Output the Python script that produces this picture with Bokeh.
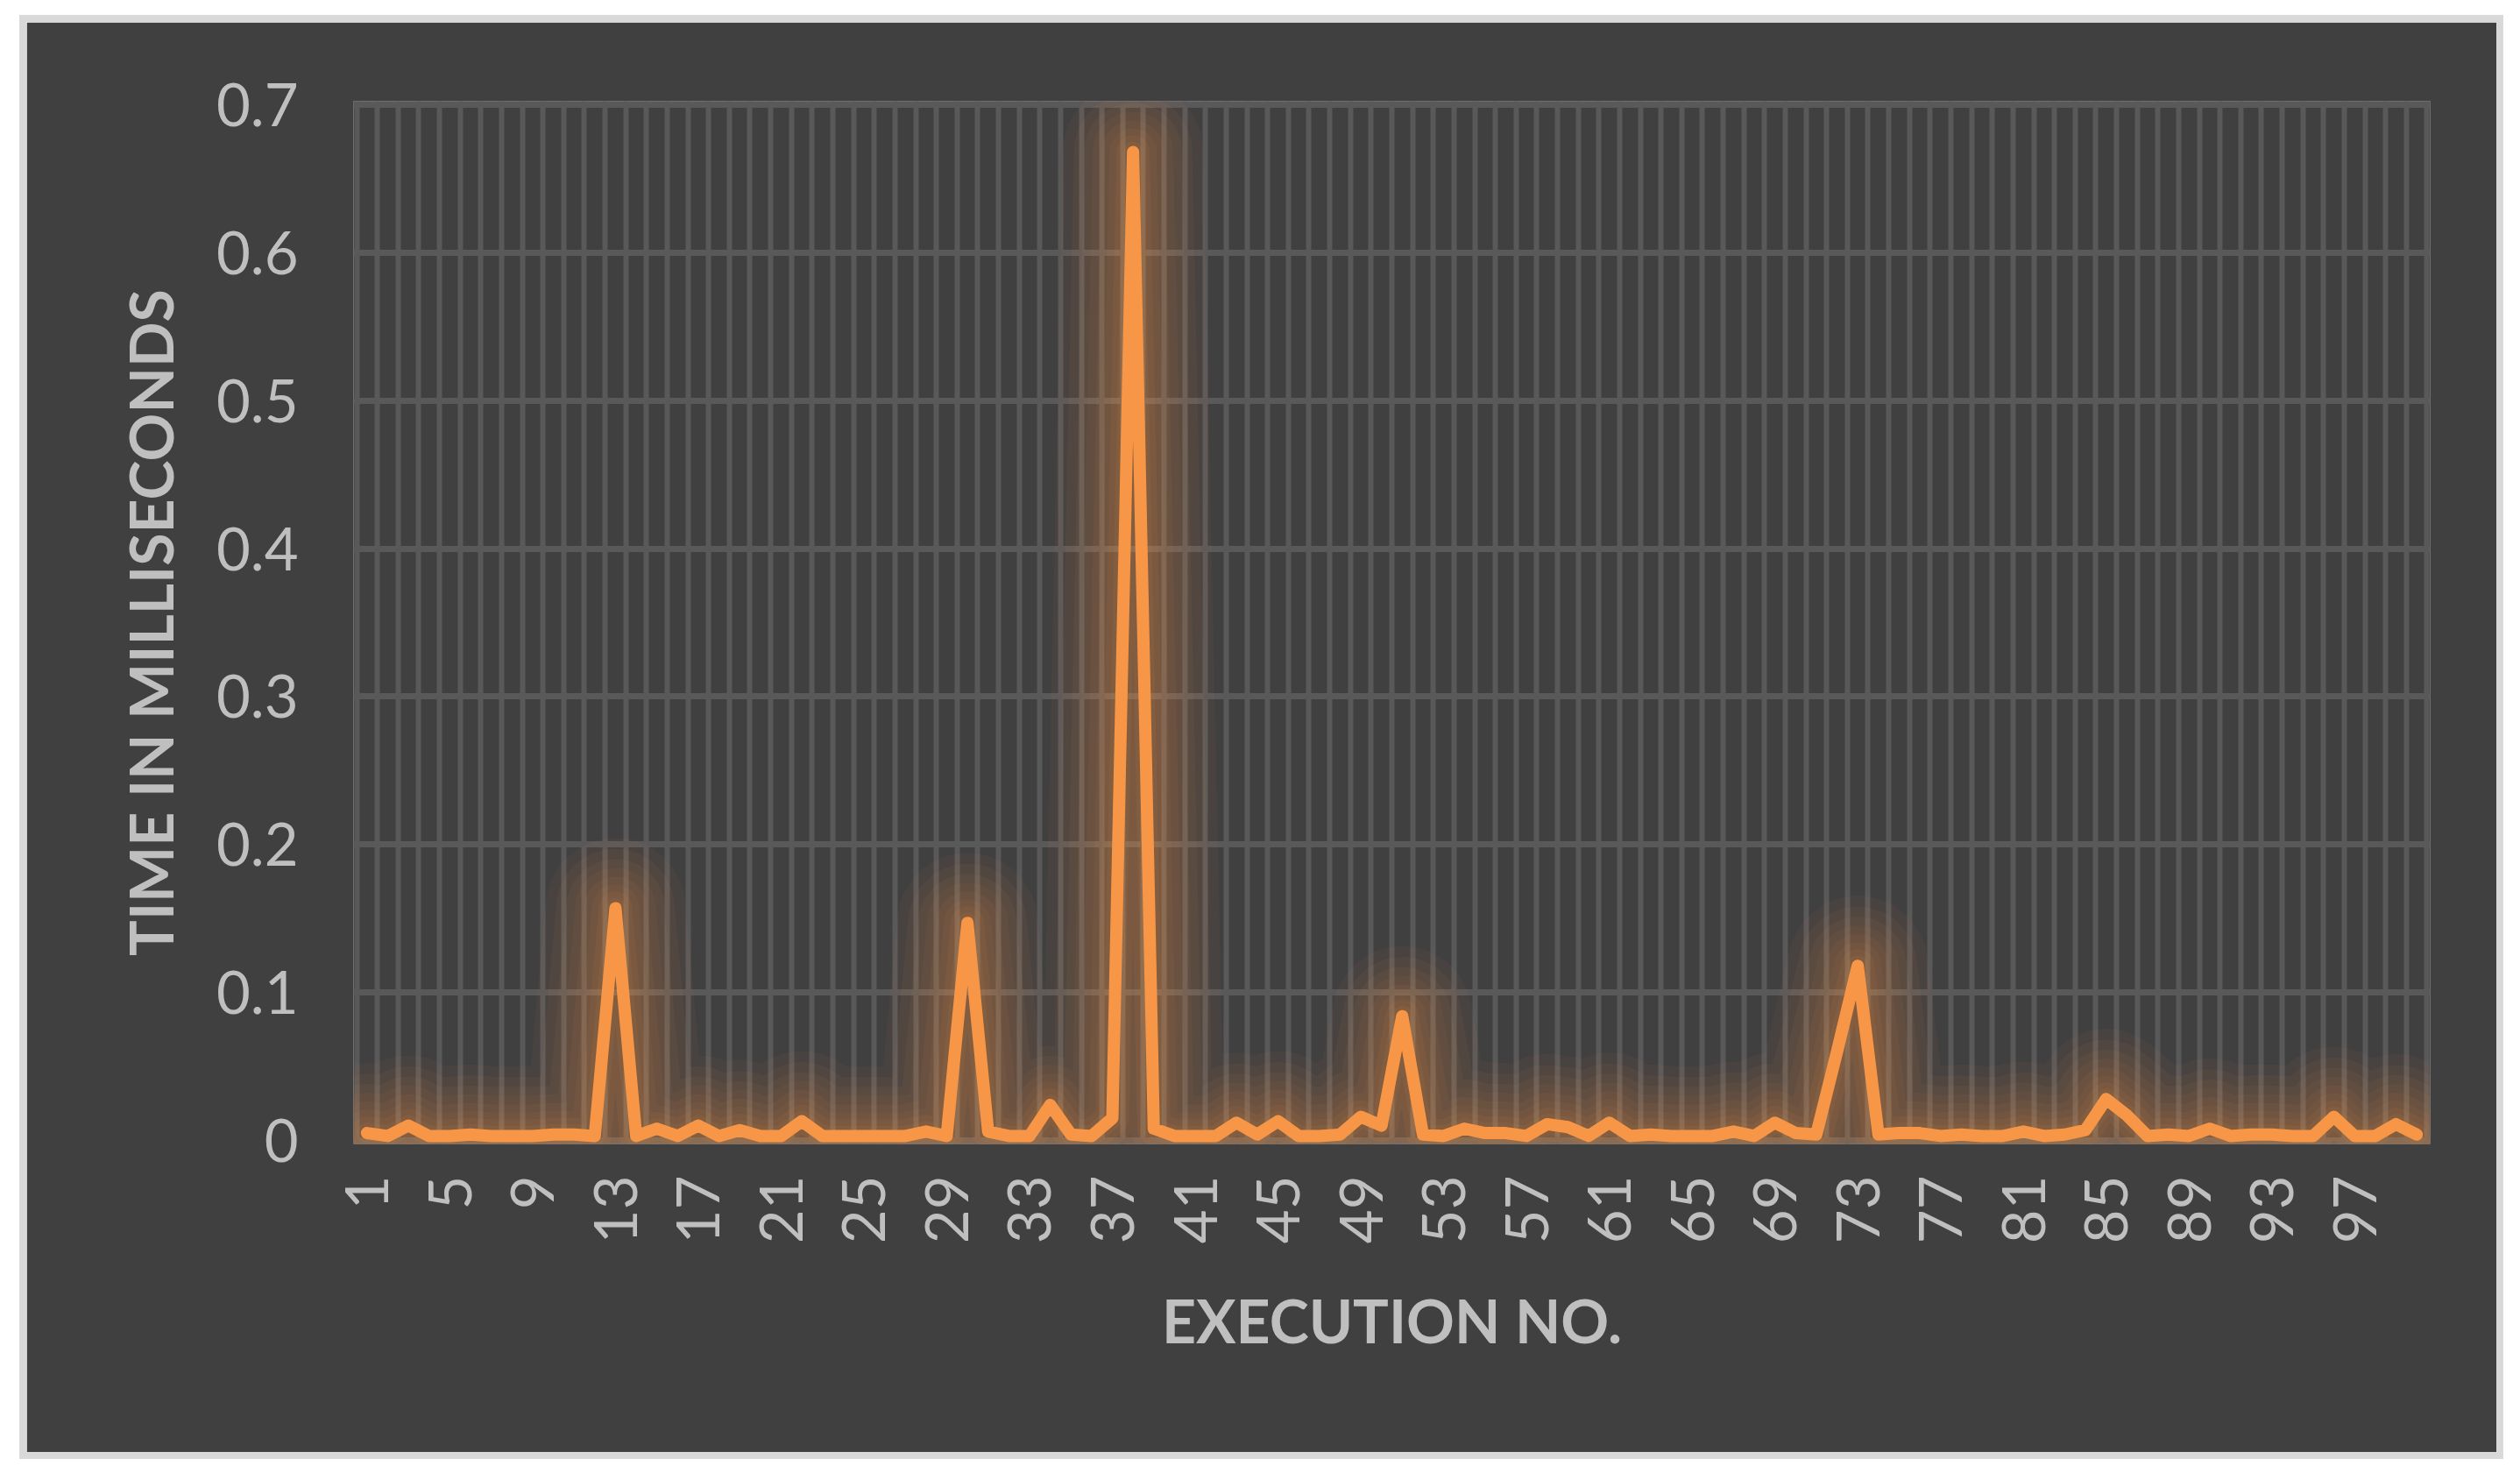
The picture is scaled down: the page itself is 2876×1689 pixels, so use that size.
from math import pi
from bokeh.plotting import figure
from bokeh.models import FixedTicker, Range1d, Spacer
from bokeh.layouts import column, row
from bokeh.embed import file_html
from bokeh.resources import INLINE

execution_no = list(range(1, 101))
time_ms = [
    0.005, 0.003, 0.010, 0.003, 0.003, 0.004, 0.003, 0.003, 0.003, 0.004,
    0.004, 0.003, 0.157, 0.003, 0.008, 0.003, 0.010, 0.003, 0.007, 0.003,
    0.003, 0.013, 0.003, 0.003, 0.003, 0.003, 0.003, 0.006, 0.003, 0.147,
    0.006, 0.003, 0.003, 0.024, 0.004, 0.003, 0.015, 0.668, 0.008, 0.003,
    0.003, 0.003, 0.012, 0.004, 0.013, 0.003, 0.003, 0.004, 0.016, 0.010,
    0.084, 0.004, 0.003, 0.008, 0.005, 0.005, 0.003, 0.011, 0.009, 0.003,
    0.012, 0.003, 0.004, 0.003, 0.003, 0.003, 0.006, 0.003, 0.012, 0.005,
    0.004, 0.060, 0.118, 0.004, 0.005, 0.005, 0.003, 0.004, 0.003, 0.003,
    0.006, 0.003, 0.004, 0.007, 0.028, 0.017, 0.003, 0.004, 0.003, 0.008,
    0.003, 0.004, 0.004, 0.003, 0.003, 0.016, 0.003, 0.003, 0.011, 0.004,
]
x_tick_labels = list(range(1, 101, 4))
y_ticks = [0, 0.1, 0.2, 0.3, 0.4, 0.5, 0.6, 0.7]
y_tick_labels = ["0", "0.1", "0.2", "0.3", "0.4", "0.5", "0.6", "0.7"]

BG = "#404040"
GRID = "#595959"
TXT = "#bfbfbf"
ORANGE = "#F79646"
FONT = "Lato"

p = figure(
    frame_width=2370, frame_height=1190,
    x_range=Range1d(0.35, 100.65), y_range=Range1d(-0.00237, 0.70237),
    output_backend="svg", toolbar_location=None,
    min_border_left=373, min_border_right=76,
    min_border_top=90, min_border_bottom=352,
    background_fill_color=BG, border_fill_color=BG,
    outline_line_color=None,
)

p.ygrid.ticker = FixedTicker(ticks=y_ticks)
p.ygrid.grid_line_color = GRID
p.ygrid.grid_line_width = 7
p.xgrid.ticker = FixedTicker(ticks=[i + 0.5 for i in range(0, 101)])
p.xgrid.grid_line_color = GRID
p.xgrid.grid_line_width = 6

for ax in (p.xaxis[0], p.yaxis[0]):
    ax.axis_line_color = None
    ax.major_tick_line_color = None
    ax.minor_tick_line_color = None
    ax.major_label_text_color = TXT
    ax.major_label_text_font = FONT
    ax.major_label_text_font_size = "67px"
    ax.axis_label_text_color = TXT
    ax.axis_label_text_font = FONT
    ax.axis_label_text_font_size = "68px"
    ax.axis_label_text_font_style = "bold"

p.xaxis.ticker = FixedTicker(ticks=x_tick_labels)
p.xaxis.major_label_orientation = pi / 2
p.xaxis.major_label_standoff = 30
p.xaxis.axis_label = "EXECUTION NO."
p.xaxis.axis_label_standoff = 44

p.yaxis.ticker = FixedTicker(ticks=y_ticks)
p.yaxis.major_label_overrides = {t: l for t, l in zip(y_ticks, y_tick_labels)}
p.yaxis.major_label_standoff = 57
p.yaxis.axis_label = "TIME IN MILLISECONDS"
p.yaxis.axis_label_standoff = 32

# soft glow layers
for w, a in [(160, 0.045), (135, 0.05), (112, 0.05), (92, 0.055),
             (72, 0.055), (54, 0.06), (38, 0.065), (24, 0.07)]:
    p.line(execution_no, time_ms, line_color=ORANGE, line_width=w, line_alpha=a,
           line_join="round", line_cap="round")
p.line(execution_no, time_ms, line_color=ORANGE, line_width=14,
       line_join="round", line_cap="round")

p.styles = {"outline": "8px solid #d9d9d9"}

layout = column(Spacer(height=25), row(Spacer(width=30), p))

open("out.html", "w").write(file_html(layout, INLINE))
